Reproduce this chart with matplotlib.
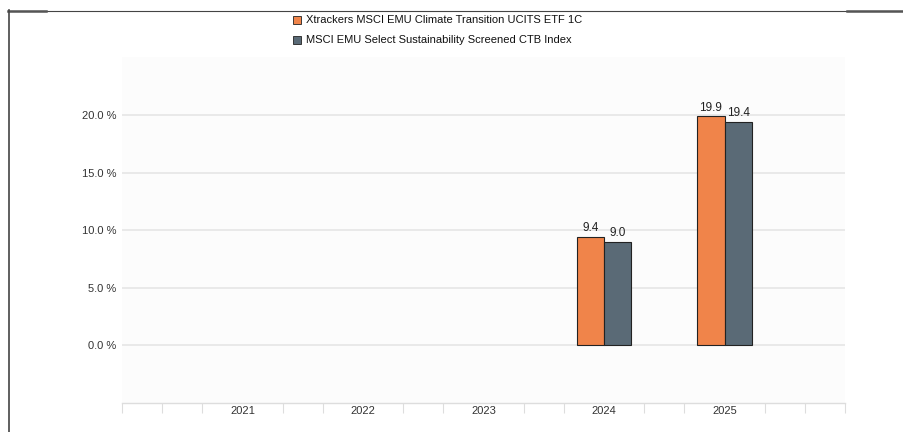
import matplotlib
matplotlib.use("Agg")
import matplotlib.pyplot as plt
from matplotlib.patches import Rectangle
from matplotlib.lines import Line2D
import numpy as np

plt.rcParams['font.family'] = ['Liberation Sans', 'DejaVu Sans']

years = [2021, 2022, 2023, 2024, 2025]
fund_name = "Xtrackers MSCI EMU Climate Transition UCITS ETF 1C"
index_name = "MSCI EMU Select Sustainability Screened CTB Index"
fund_vals = [np.nan, np.nan, np.nan, 9.4, 19.9]
index_vals = [np.nan, np.nan, np.nan, 9.0, 19.4]
yticks = [0, 5, 10, 15, 20]

c_fund = '#F0844A'
c_index = '#5A6A76'

W, H = 904, 432
fig = plt.figure(figsize=(W / 100, H / 100), dpi=100)
fig.patch.set_facecolor('white')

def fx(px):
    return px / W

def fy(py):
    return 1 - py / H

ax = fig.add_axes([fx(122), fy(403), fx(845) - fx(122), fy(57) - fy(403)])
ax.set_facecolor('#fcfcfc')
ax.set_xlim(2020, 2026)
ax.set_ylim(-5, 25.05)

bw = 0.225
x = np.array(years, dtype=float)
ax.bar(x - bw / 2, fund_vals, width=bw, color=c_fund, edgecolor='#222222', linewidth=0.8, zorder=3)
ax.bar(x + bw / 2, index_vals, width=bw, color=c_index, edgecolor='#222222', linewidth=0.8, zorder=3)

for xi, v in zip(x - bw / 2, fund_vals):
    if not np.isnan(v):
        ax.annotate(f"{v:.1f}", (xi, v), xytext=(0, 2), textcoords='offset points',
                    ha='center', va='bottom', fontsize=8.5, color='#222222')
for xi, v in zip(x + bw / 2, index_vals):
    if not np.isnan(v):
        ax.annotate(f"{v:.1f}", (xi, v), xytext=(0, 2), textcoords='offset points',
                    ha='center', va='bottom', fontsize=8.5, color='#222222')

ax.set_yticks(yticks)
ax.set_yticklabels([f"{t:.1f} %" for t in yticks], fontsize=8, color='#333333')
ax.tick_params(axis='y', length=0, pad=4)
for t in yticks:
    ax.axhline(t, color='#e6e6e6', linewidth=1.2, zorder=1)

ax.set_xticks(years)
ax.set_xticklabels([str(y) for y in years], fontsize=8, color='#333333')
ax.tick_params(axis='x', length=0, pad=2)
minor = [2020 + k / 3 for k in range(19) if k % 3 != 0 or k in (0, 18)]
ax.set_xticks(minor, minor=True)
ax.tick_params(axis='x', which='minor', length=7, color='#dddddd', width=0.8)

for s in ['top', 'right', 'left']:
    ax.spines[s].set_visible(False)
ax.spines['bottom'].set_color('#dddddd')
ax.spines['bottom'].set_linewidth(1.0)

# Legend (manual)
for i, (name, col) in enumerate([(fund_name, c_fund), (index_name, c_index)]):
    cy = 20 + i * 20
    fig.patches.append(Rectangle((fx(293), fy(cy + 4)), fx(8), fy(cy - 4) - fy(cy + 4),
                                 transform=fig.transFigure, facecolor=col,
                                 edgecolor='#222222', linewidth=0.6))
    fig.text(fx(306), fy(cy), name, fontsize=8, color='#111111', ha='left', va='center')

# Frame lines
fig.add_artist(Line2D([fx(8), fx(904)], [fy(10.5), fy(10.5)], transform=fig.transFigure,
                      color='#444444', linewidth=0.8))
fig.add_artist(Line2D([fx(8), fx(46)], [fy(10.5), fy(10.5)], transform=fig.transFigure,
                      color='#555555', linewidth=1.8))
fig.add_artist(Line2D([fx(847), fx(904)], [fy(10.5), fy(10.5)], transform=fig.transFigure,
                      color='#555555', linewidth=1.8))
fig.add_artist(Line2D([fx(8.5), fx(8.5)], [fy(10), fy(432)], transform=fig.transFigure,
                      color='#444444', linewidth=1.2))

fig.savefig('out.png', dpi=100, facecolor='white')
